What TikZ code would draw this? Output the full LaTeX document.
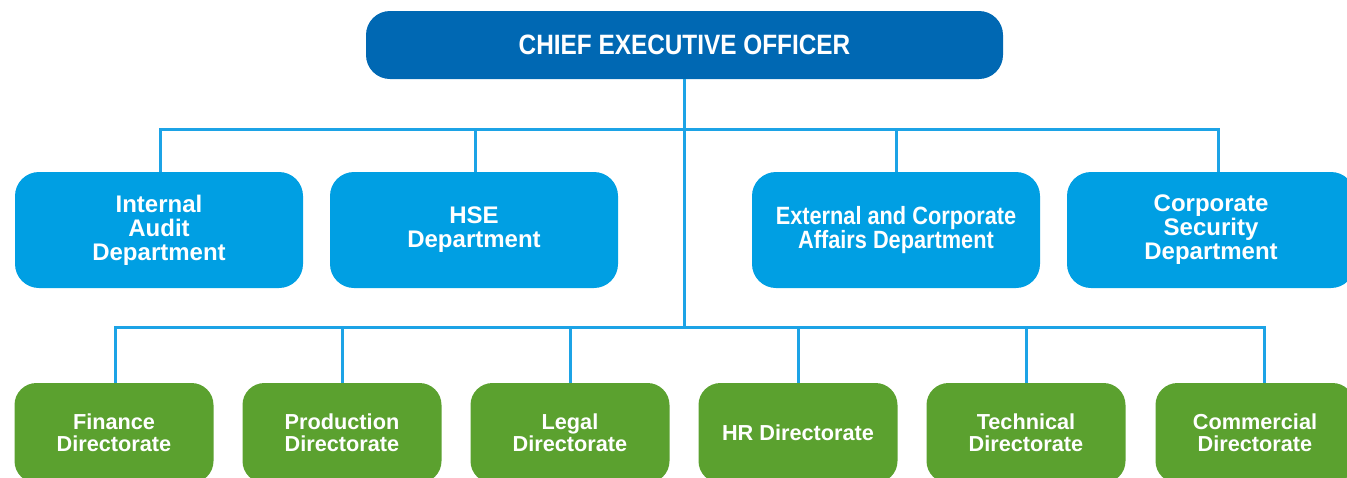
\documentclass[tikz,border=0pt]{standalone}
\usepackage{fontspec}
\setmainfont{Liberation Sans}
\newfontfamily\condfont{Liberation Sans}[FakeStretch=0.87]
\definecolor{ceoblue}{HTML}{0068B3}
\definecolor{deptblue}{HTML}{009FE3}
\definecolor{dirgreen}{HTML}{5BA12F}
\definecolor{linkblue}{HTML}{1CA3E6}
\tikzset{
  box/.style={rounded corners=24pt, inner sep=0pt, align=center, text=white},
  ceobox/.style={box, fill=ceoblue, minimum width=637pt, minimum height=68pt,
    font=\condfont\bfseries\fontsize{28}{28}\selectfont},
  deptbox/.style={box, fill=deptblue, minimum width=288pt, minimum height=116pt,
    font=\bfseries\fontsize{24}{24}\selectfont},
  deptcond/.style={deptbox, font=\condfont\bfseries\fontsize{25}{24}\selectfont},
  dirbox/.style={box, rounded corners=22pt, fill=dirgreen, minimum width=199pt, minimum height=100pt,
    font=\bfseries\fontsize{21.7}{22}\selectfont},
  conn/.style={draw=linkblue, line width=3pt}
}
\begin{document}
\begin{tikzpicture}[x=1pt,y=-1pt]
\useasboundingbox (0,0) rectangle (1347,477);
\node[ceobox] (ceo) at (684.5,45) {CHIEF EXECUTIVE OFFICER};
% level 2
\node[deptbox] (ia) at (159,230) {Internal\\Audit\\Department};
\node[deptbox] (hse) at (474,230) {HSE\\Department};
\node[deptcond] (eca) at (896,230) {External and Corporate\\Affairs Department};
\node[deptbox] (cs) at (1211,230) {Corporate\\Security\\Department};
% level 3
\node[dirbox] (fin) at (114,433) {Finance\\Directorate};
\node[dirbox] (pro) at (342,433) {Production\\Directorate};
\node[dirbox] (leg) at (570,433) {Legal\\Directorate};
\node[dirbox] (hr) at (798,433) {HR Directorate};
\node[dirbox] (tec) at (1026,433) {Technical\\Directorate};
\node[dirbox] (com) at (1255,433) {Commercial\\Directorate};
% connectors
\coordinate (bus1) at (684.5,129);
\coordinate (bus2) at (684.5,327);
\draw[conn] (ceo.south) -- (bus2);
\draw[conn] ([xshift=1pt]ia.north) |- (bus1);
\draw[conn] ([xshift=1pt]hse.north) |- (bus1);
\draw[conn] (eca.north) |- (bus1);
\draw[conn] ([xshift=7pt]cs.north) |- (bus1);
\draw[conn] ([xshift=1pt]fin.north) |- (bus2);
\draw[conn] (pro.north) |- (bus2);
\draw[conn] (leg.north) |- (bus2);
\draw[conn] (hr.north) |- (bus2);
\draw[conn] (tec.north) |- (bus2);
\draw[conn] ([xshift=9pt]com.north) |- (bus2);
\end{tikzpicture}
\end{document}
